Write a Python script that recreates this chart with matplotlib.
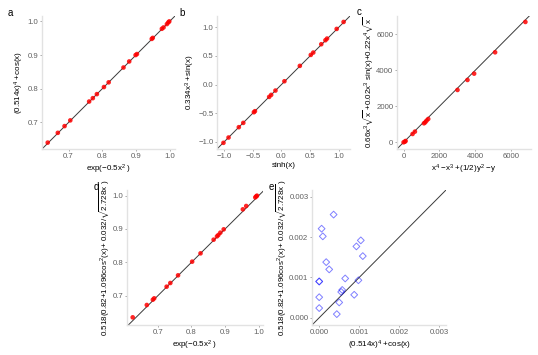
import matplotlib
matplotlib.use("Agg")
import matplotlib.pyplot as plt

plt.rcParams['font.family'] = ['Liberation Sans', 'DejaVu Sans']
plt.rcParams['mathtext.fontset'] = 'custom'
plt.rcParams['mathtext.rm'] = 'Liberation Sans'
plt.rcParams['mathtext.it'] = 'Liberation Sans'
plt.rcParams['mathtext.default'] = 'regular'
plt.rcParams['mathtext.fallback'] = 'stixsans'

# panel a
a_x = [0.638, 0.668, 0.688, 0.705, 0.761, 0.772, 0.784, 0.805, 0.819, 0.863,
       0.880, 0.899, 0.903, 0.947, 0.950, 0.977, 0.982, 0.992, 0.996, 0.999]
a_y = [0.640, 0.669, 0.689, 0.706, 0.762, 0.772, 0.784, 0.805, 0.819, 0.863,
       0.881, 0.900, 0.903, 0.948, 0.951, 0.978, 0.982, 0.992, 0.997, 1.000]

# panel b
b_x = [-1.015, -0.926, -0.746, -0.668, -0.482, -0.464, -0.215, -0.180, -0.105,
       0.052, 0.322, 0.514, 0.557, 0.697, 0.770, 0.798, 0.967, 1.088]
b_y = [-1.020, -0.927, -0.746, -0.671, -0.484, -0.466, -0.216, -0.181, -0.105,
       0.058, 0.327, 0.519, 0.560, 0.706, 0.776, 0.805, 0.974, 1.096]

# panel c
c_x = [0, 74, 111, 502, 632, 1138, 1208, 1282, 1375, 3010, 3567, 3939, 5110, 6801]
c_y = [0, 37, 74, 463, 593, 1056, 1111, 1204, 1296, 2908, 3463, 3815, 5000, 6686]

# panel d
d_x = [0.625, 0.667, 0.685, 0.689, 0.726, 0.737, 0.760, 0.802, 0.827, 0.866,
       0.876, 0.880, 0.886, 0.896, 0.953, 0.963, 0.990, 0.993, 0.995]
d_y = [0.635, 0.672, 0.688, 0.692, 0.727, 0.738, 0.761, 0.802, 0.827, 0.868,
       0.878, 0.882, 0.889, 0.899, 0.959, 0.969, 0.995, 0.998, 1.000]

# panel e
e_x = [0.00036, 0.00006, 0.00009, 0.00104, 0.00093, 0.00109, 0.000175, 0.00025,
       0.00065, 0.0, 0.0, 0.00098, 0.000575, 0.00055, 0.000875, 0.0, 0.0005,
       0.0, 0.00044]
e_y = [0.00256, 0.00221, 0.00202, 0.00192, 0.00177, 0.00153, 0.00138, 0.00120,
       0.000975, 0.00090, 0.00090, 0.00093, 0.00069, 0.00064, 0.00057, 0.00051,
       0.00038, 0.00024, 0.00009]

W, H = 538, 355
fig = plt.figure(figsize=(W / 100, H / 100), dpi=100)


def make_ax(x0, x1, y0, y1):
    return fig.add_axes([x0 / W, 1 - y1 / H, (x1 - x0) / W, (y1 - y0) / H])


def style(ax, xlim, ylim, ticks_x, ticks_y, fmt, xlabel, ylabel):
    ax.set_xlim(xlim)
    ax.set_ylim(ylim)
    ax.set_xticks(ticks_x)
    ax.set_yticks(ticks_y)
    ax.set_xticklabels([fmt.format(t).replace('-', '\u2212') for t in ticks_x])
    ax.set_yticklabels([fmt.format(t).replace('-', '\u2212') for t in ticks_y])
    for s in ['top', 'right']:
        ax.spines[s].set_visible(False)
    for s in ['left', 'bottom']:
        ax.spines[s].set_color('#e2e2e2')
        ax.spines[s].set_linewidth(1.0)
    ax.tick_params(colors='#999999', labelcolor='#606060', labelsize=5.6,
                   length=1.6, width=0.6)
    ax.tick_params(axis='x', pad=1.5)
    ax.tick_params(axis='y', pad=1.0)
    ax.set_xlabel(xlabel, fontsize=5.8, labelpad=1.5)
    ax.set_ylabel(ylabel, fontsize=5.8, labelpad=1.0)
    ax.axline((0, 0), slope=1, color='#3a3a3a', lw=0.7, zorder=1)


def red_points(ax, x, y):
    ax.scatter(x, y, s=11, color='red', alpha=0.85, edgecolors='none', zorder=3)


ax = make_ax(42, 175, 16, 149)
red_points(ax, a_x, a_y)
style(ax, (0.621, 1.016), (0.621, 1.016), [0.7, 0.8, 0.9, 1.0], [0.7, 0.8, 0.9, 1.0],
      '{:.1f}', r'exp($-$0.5x$^2$ )', r'(0.514x)$^4$ +cos(x)')

ax = make_ax(217, 350, 16, 149)
red_points(ax, b_x, b_y)
style(ax, (-1.128, 1.2), (-1.128, 1.2), [-1.0, -0.5, 0.0, 0.5, 1.0],
      [-1.0, -0.5, 0.0, 0.5, 1.0], '{:.1f}', 'sinh(x)', r'0.334x$^3$ +sin(x)')

ax = make_ax(397, 531, 16, 149)
red_points(ax, c_x, c_y)
style(ax, (-368, 7114), (-372, 7017), [0, 2000, 4000, 6000], [0, 2000, 4000, 6000],
      '{:d}', r'x$^4$ $-$x$^3$ +(1/2)y$^2$ $-$y',
      r'0.66x$^3\sqrt{x}$ +0.02x$^3$ sin(x)+0.22x$^4\sqrt{x}$')

ylab_de = r'0.518(0.82+1.096cos$^2$(x)+ 0.032/$\sqrt{2.728x}$ )'

ax = make_ax(127, 263, 190, 325)
red_points(ax, d_x, d_y)
style(ax, (0.608, 1.013), (0.612, 1.017), [0.7, 0.8, 0.9, 1.0], [0.7, 0.8, 0.9, 1.0],
      '{:.1f}', r'exp($-$0.5x$^2$ )', ylab_de)

ax = make_ax(312, 446, 190, 325)
ax.scatter(e_x, e_y, s=12, marker='D', facecolors='none', edgecolors='blue',
           linewidths=0.7, alpha=0.5, zorder=3)
style(ax, (-0.00018, 0.00317), (-0.00018, 0.00317),
      [0.0, 0.001, 0.002, 0.003], [0.0, 0.001, 0.002, 0.003],
      '{:.3f}', r'(0.514x)$^4$ +cos(x)', ylab_de)

for lab, (px, py) in zip('abcde', [(10, 13), (182, 12.7), (359, 12.3),
                                   (96, 187), (271, 187)]):
    fig.text(px / W, 1 - py / H, lab, fontsize=7, ha='center', va='center')

fig.savefig('out.png', dpi=100)
